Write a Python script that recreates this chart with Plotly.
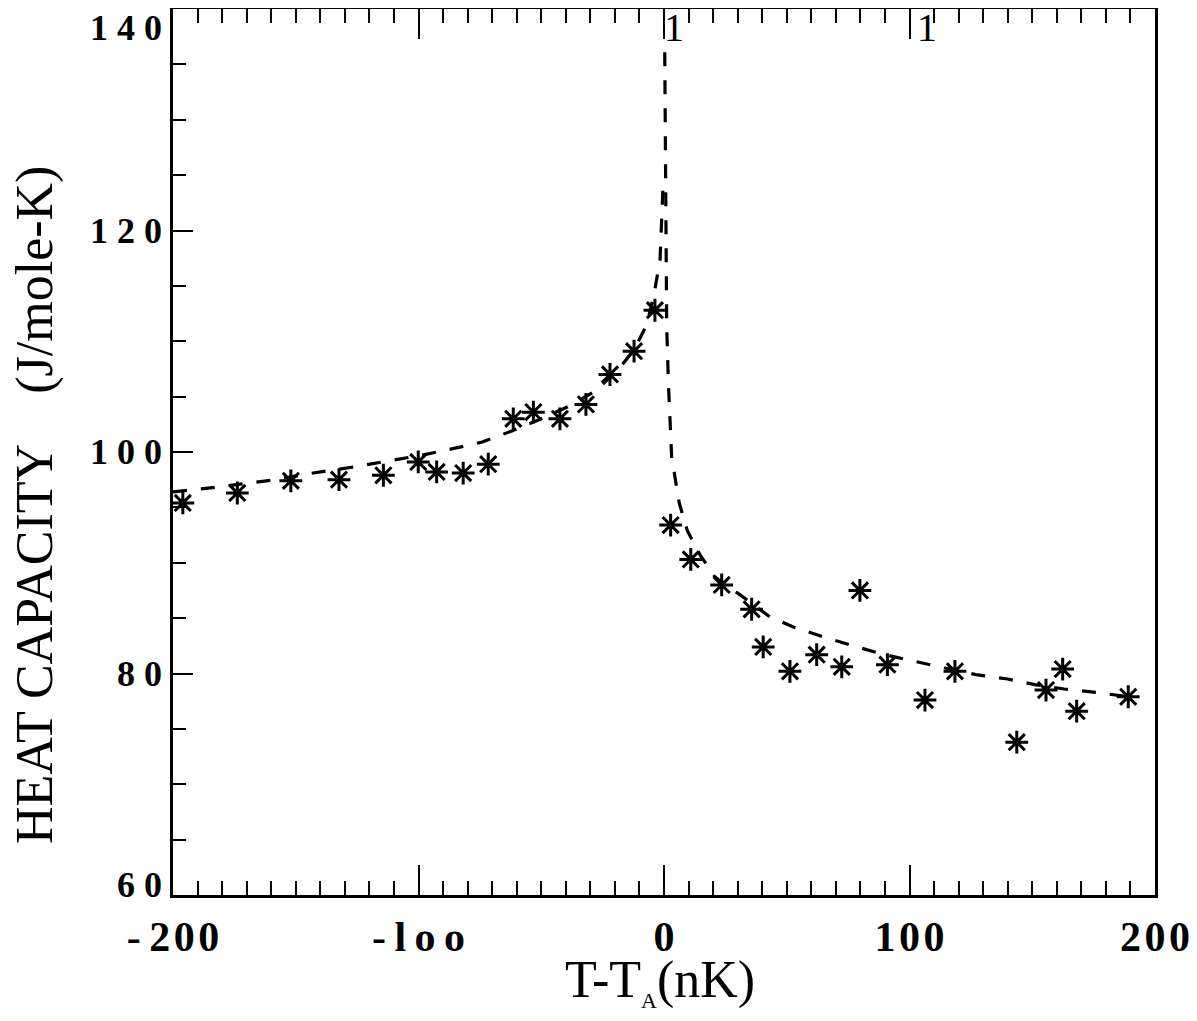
import plotly.graph_objects as go

# measured data points (asterisks)
x_pts = [-196, -173.8, -152, -132.4, -114.3, -100.1, -92.6, -81.8, -71.6, -61.4,
         -53.2, -42.4, -31.8, -22, -12.2, -3.7,
         2.7, 10.9, 23.5, 35.7, 40.4, 51.3, 62.2, 72.4, 79.8, 91.0,
         106.3, 118.5, 143.7, 155.6, 162.4, 168.1, 189.1]
y_pts = [95.4, 96.3, 97.4, 97.5, 97.9, 99.1, 98.2, 98.1, 98.9, 103.0,
         103.6, 103.0, 104.3, 107.0, 109.1, 112.8,
         93.4, 90.3, 88.0, 85.8, 82.4, 80.2, 81.7, 80.6, 87.5, 80.8,
         77.6, 80.2, 73.8, 78.5, 80.4, 76.6, 77.9]

# fitted curve (below and above the transition)
fit_left_x = [-200, -183, -158, -146, -125, -110, -99, -86, -74, -62, -50, -39,
              -28, -18, -12, -7, -4, -1.6, -0.4]
fit_left_y = [96.4, 96.8, 97.5, 98.0, 98.7, 99.3, 99.7, 100.3, 100.9, 101.9,
              103.0, 104.1, 105.5, 107.6, 109.3, 111.5, 114.3, 117.4, 124.0]
fit_right_x = [0.3, 0.5, 0.8, 1.1, 1.8, 2.4, 3.1, 6.2, 9.5, 14.7, 20.8, 31, 43.2,
               52.7, 64.9, 77.1, 88, 100, 115, 127, 140, 151, 163, 176, 189]
fit_right_y = [136.1, 126.0, 115.3, 111.3, 106.2, 102.6, 99.6, 95.4, 92.9, 90.7,
               88.7, 87.1, 85.1, 84.2, 83.3, 82.5, 81.8, 81.2, 80.5, 79.9, 79.5,
               79.0, 78.6, 78.3, 77.9]

x_tickvals = [-200, -100, 0, 100, 200]
x_ticktext = ["-\u20092\u200a0\u200a0", "-\u2009l\u2009o\u2009o", "0",
              "1\u200a0\u200a0", "2\u200a0\u200a0"]
x_minor_ticks = list(range(-200, 201, 10))
y_tickvals = [60, 80, 100, 120, 140]
y_ticktext = ["6\u00a00", "8\u00a00", "1\u00a00\u00a00", "1\u00a02\u00a00", "1\u00a04\u00a00"]
top_marks_x = [4, 107]
top_marks_text = ["1", "1"]

serif = "Liberation Serif, DejaVu Serif, serif"

fig = go.Figure()
dash_line = dict(color="black", width=3.2, dash="14px,14px")
fig.add_trace(go.Scatter(x=fit_left_x, y=fit_left_y, mode="lines", line=dash_line,
                         xaxis="x2", showlegend=False, hoverinfo="skip"))
fig.add_trace(go.Scatter(x=fit_right_x, y=fit_right_y, mode="lines", line=dash_line,
                         showlegend=False, hoverinfo="skip"))
fig.add_trace(go.Scatter(x=x_pts, y=y_pts, mode="markers",
                         marker=dict(symbol="asterisk-open", size=19, color="black",
                                     line=dict(color="black", width=3)),
                         showlegend=False))

fig.update_layout(
    width=1181, height=1005,
    margin=dict(l=165, r=34, t=1, b=118),
    paper_bgcolor="white", plot_bgcolor="white",
    showlegend=False,
    font=dict(family=serif, color="black"),
    xaxis=dict(range=[-200, 200], showgrid=False, zeroline=False, automargin=False,
               showline=True, linecolor="black", linewidth=3, mirror="ticks",
               ticks="inside", ticklen=30, tickwidth=2, tickcolor="black",
               tickvals=x_tickvals, ticktext=x_ticktext,
               tickfont=dict(family=serif, size=42, color="black", weight="bold"),
               ticklabeloverflow="allow",
               minor=dict(dtick=10, ticks="inside", ticklen=14, tickwidth=2,
                          tickcolor="black", showgrid=False),
               ticklabelstandoff=3),
    xaxis2=dict(range=[-200, 200], overlaying="x", side="top", showgrid=False,
                zeroline=False, automargin=False, showline=True,
                linecolor="black", linewidth=2.5, showticklabels=False,
                ticks="inside", ticklen=12, tickwidth=2, tickcolor="black",
                tickvals=x_minor_ticks),
    yaxis=dict(range=[60, 140], showgrid=False, zeroline=False, automargin=False,
               showline=True, linecolor="black", linewidth=3, mirror=True,
               ticks="inside", ticklen=20, tickwidth=2, tickcolor="black",
               tickvals=y_tickvals, showticklabels=False,
               minor=dict(dtick=5, ticks="inside", ticklen=13, tickwidth=2,
                          tickcolor="black", showgrid=False)),
)

# y tick labels (the top one sits below its tick, the bottom one above)
for v, t in zip(y_tickvals, y_ticktext):
    shift = -19 if v == max(y_tickvals) else (10 if v == min(y_tickvals) else 0)
    fig.add_annotation(text=t, x=0, y=v, xref="paper", yref="y",
                       xanchor="right", yanchor="middle", xshift=-9, yshift=shift,
                       showarrow=False,
                       font=dict(family=serif, size=36, color="black", weight="bold"))

fig.add_annotation(text="HEAT CAPACITY \u00a0\u00a0\u00a0(J/mole-K)", textangle=-90,
                   xref="paper", yref="paper", x=-0.1405, y=0.4402,
                   xanchor="center", yanchor="middle", showarrow=False,
                   font=dict(family=serif, size=52, color="black"))
fig.add_annotation(text="T-T<sub><span style=\"font-size:22px\">A</span></sub>(nK)",
                   xref="paper", yref="paper", x=0.496, y=-0.098,
                   xanchor="center", yanchor="middle", showarrow=False,
                   font=dict(family=serif, size=52, color="black"))
for xv, t in zip(top_marks_x, top_marks_text):
    fig.add_annotation(text=t, x=xv, y=138.3, xref="x", yref="y",
                       showarrow=False, xanchor="center", yanchor="middle",
                       font=dict(family=serif, size=40, color="black"))

fig.write_html("out.html")
